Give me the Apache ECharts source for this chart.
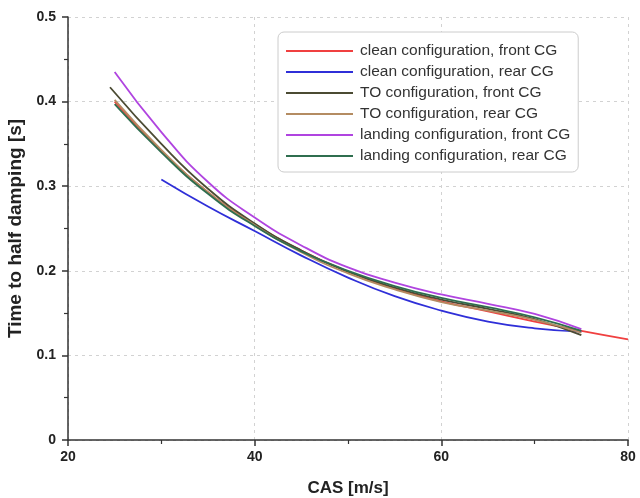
<!DOCTYPE html>
<html>
<head>
<meta charset="utf-8">
<script src="https://cdn.jsdelivr.net/npm/echarts@6/dist/echarts.min.js"></script>
<style>
  html, body { margin: 0; padding: 0; background: #fff; }
  #chart { width: 640px; height: 498px; }
</style>
</head>
<body>
<div id="chart"></div>
<script>
// Time to half damping versus calibrated airspeed for six configurations
const seriesNames = [
  'clean configuration, front CG',
  'clean configuration, rear CG',
  'TO configuration, front CG',
  'TO configuration, rear CG',
  'landing configuration, front CG',
  'landing configuration, rear CG'
];

// [CAS m/s, time s] pairs per configuration
const cleanFront = [[25,0.400],[30,0.342],[35,0.293],[40,0.255],[45,0.224],[50,0.199],[55,0.179],[60,0.164],[65,0.152],[70,0.140],[75,0.129],[80,0.119]];
const cleanRear = [[30,0.308],[35,0.276],[40,0.247],[45,0.218],[50,0.192],[55,0.170],[60,0.153],[65,0.140],[70,0.132],[75,0.128]];
const toFront = [[24.5,0.417],[30,0.350],[35,0.297],[40,0.256],[45,0.224],[50,0.199],[55,0.180],[60,0.166],[65,0.155],[70,0.143],[75,0.124]];
const toRear = [[25,0.402],[30,0.343],[35,0.293],[40,0.254],[45,0.222],[50,0.197],[55,0.178],[60,0.163],[65,0.153],[70,0.142],[75,0.127]];
const landingFront = [[25,0.435],[30,0.364],[35,0.305],[40,0.263],[45,0.230],[50,0.204],[55,0.186],[60,0.172],[65,0.161],[70,0.149],[75,0.131]];
const landingRear = [[25,0.397],[30,0.340],[35,0.291],[40,0.253],[45,0.223],[50,0.200],[55,0.182],[60,0.168],[65,0.157],[70,0.145],[75,0.129]];

const seriesData = [cleanFront, cleanRear, toFront, toRear, landingFront, landingRear];
const seriesColors = ['#f04040', '#2f2fd8', '#4b4b33', '#b48c62', '#b044e0', '#2f6e4f'];

const xTicks = { min: 20, max: 80, interval: 20 };
const yTicks = { min: 0, max: 0.5, interval: 0.1 };

const FONT = '"Liberation Sans", Arial, sans-serif';

const chart = echarts.init(document.getElementById('chart'), null, { renderer: 'canvas' });

const axisCommon = {
  axisLine: { show: true, lineStyle: { color: '#333', width: 1.5 } },
  axisTick: { show: true, inside: false, length: 6, lineStyle: { color: '#333', width: 1.5 } },
  minorTick: { show: true, splitNumber: 2, length: 4, lineStyle: { color: '#333', width: 1.2 } },
  splitLine: { show: true, lineStyle: { color: '#d2d2d2', type: [3, 4], width: 1 } },
  axisLabel: { color: '#222', fontFamily: FONT, fontWeight: 'bold', fontSize: 14 }
};

chart.setOption({
  animation: false,
  backgroundColor: '#fff',
  grid: { left: 68, right: 12, top: 17, bottom: 58, containLabel: false, outerBoundsMode: 'none' },
  legend: {
    orient: 'vertical',
    left: 278,
    top: 32,
    padding: [11, 8, 8, 7],
    backgroundColor: '#fff',
    borderColor: '#cccccc',
    borderWidth: 1,
    borderRadius: 6,
    itemWidth: 67,
    itemHeight: 14,
    itemGap: 5,
    itemStyle: { opacity: 0, borderWidth: 0 },
    lineStyle: { width: 2 },
    textStyle: { fontFamily: FONT, fontSize: 15.5, lineHeight: 16, color: '#333', padding: [0, 0, 0, 2] },
    data: seriesNames
  },
  xAxis: Object.assign({}, axisCommon, {
    type: 'value',
    min: xTicks.min, max: xTicks.max, interval: xTicks.interval,
    name: 'CAS [m/s]',
    nameLocation: 'middle',
    nameGap: 40,
    nameTextStyle: { fontFamily: FONT, fontWeight: 'bold', fontSize: 17, color: '#222' },
    axisLabel: Object.assign({}, axisCommon.axisLabel, { margin: 10 })
  }),
  yAxis: Object.assign({}, axisCommon, {
    type: 'value',
    min: yTicks.min, max: yTicks.max, interval: yTicks.interval,
    name: 'Time to half damping [s]',
    nameLocation: 'middle',
    nameGap: 39,
    nameRotate: 90,
    nameTextStyle: { fontFamily: FONT, fontWeight: 'bold', fontSize: 19, color: '#222' },
    axisLabel: Object.assign({}, axisCommon.axisLabel, {
      margin: 12,
      formatter: v => (v === 0 ? '0' : v.toFixed(1))
    })
  }),
  series: seriesNames.map((name, i) => ({
    name: name,
    type: 'line',
    data: seriesData[i],
    smooth: 0.5,
    symbol: 'none',
    showSymbol: false,
    lineStyle: { color: seriesColors[i], width: 1.8 },
    itemStyle: { color: seriesColors[i] },
    z: 2 + i
  }))
});
</script>
</body>
</html>
